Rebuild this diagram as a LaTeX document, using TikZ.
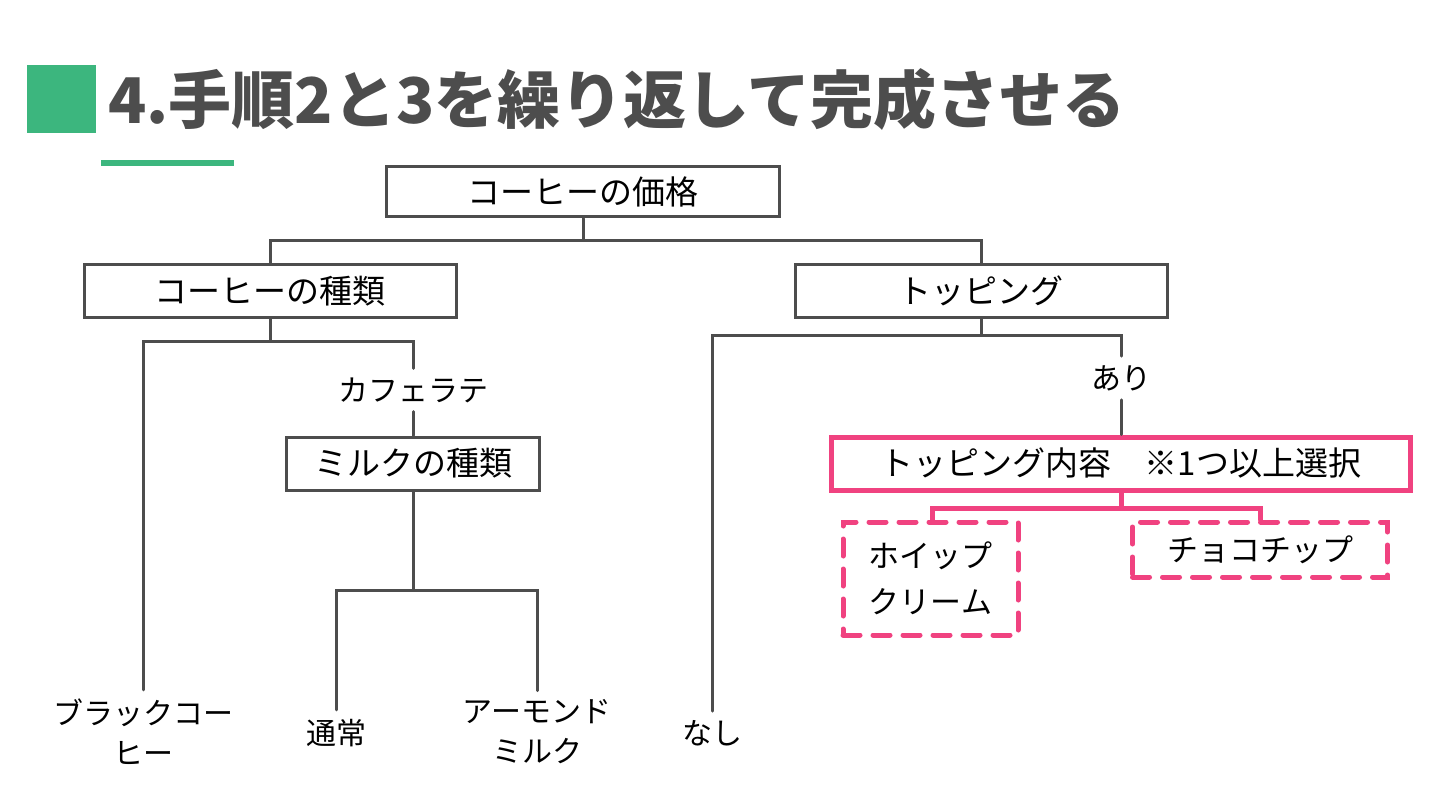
\documentclass[tikz,border=0pt]{standalone}
\usepackage{fontspec}
\setmainfont{Noto Sans CJK JP}
\usepackage{tikz}
\usetikzlibrary{arrows.meta,calc,positioning}
\definecolor{treegray}{RGB}{77,77,77}
\definecolor{titlegreen}{RGB}{60,182,126}
\definecolor{toppingpink}{RGB}{240,66,128}

\begin{document}
\begin{tikzpicture}[x=1pt,y=-1pt,line cap=round,
 treebox/.style={draw=treegray,line width=3pt,fill=white,inner sep=0pt,
  font=\fontsize{33}{40}\selectfont},
 leaf/.style={inner sep=9pt,align=center,font=\fontsize{30}{40}\selectfont},
 pinkbox/.style={draw=toppingpink,line width=5pt,fill=white,inner sep=0pt,
  font=\fontsize{33}{40}\selectfont},
 pinkdash/.style={pinkbox,dash pattern=on 17pt off 13pt,align=center,
  font=\fontsize{31}{46}\selectfont},
 edge/.style={treegray,line width=3pt},
 pinkedge/.style={toppingpink,line width=5pt}]
\useasboundingbox (0,0) rectangle (1440,810);
\fill[white] (0,0) rectangle (1440,810);
% title
\fill[titlegreen] (27,65) rectangle (96,133);
\node[anchor=west,text=treegray,inner sep=0pt,
 font=\fontsize{63}{70}\selectfont\bfseries] (title) at (108,99)
 {4.手順2と3を繰り返して完成させる};
\fill[titlegreen] (101,160) rectangle (234,166);
% boxes
\node[treebox,minimum width=393pt,minimum height=50pt] (price) at (583,192) {コーヒーの価格};
\node[treebox,minimum width=372pt,minimum height=52pt] (kind) at (270,291) {コーヒーの種類};
\node[treebox,minimum width=372pt,minimum height=52pt] (topping) at (981,291) {トッピング};
\node[treebox,minimum width=253pt,minimum height=53pt] (milk) at (413,463.5) {ミルクの種類};
\node[pinkbox,minimum width=579pt,minimum height=53pt] (detail) at (1121,463.5)
 {トッピング内容　※1つ以上選択};
\node[pinkdash,minimum width=175pt,minimum height=113pt] (whip) at (930.5,578.5) {ホイップ\\クリーム};
\node[pinkdash,minimum width=255pt,minimum height=55pt] (choco) at (1260,549.5) {チョコチップ};
% labels
\node[leaf] (latte) at (413,390) {カフェラテ};
\node[leaf] (yes) at (1121,378) {あり};
\node[leaf] (black) at (143,732) {ブラックコー\\ヒー};
\node[leaf] (normal) at (336,733) {通常};
\node[leaf] (almond) at (537,732) {アーモンド\\ミルク};
\node[leaf] (none) at (712,733) {なし};
% junctions
\coordinate (jprice) at (583,241);
\coordinate (jkind) at (270,341);
\coordinate (jmilk) at (413,590);
\coordinate (jtop) at (981,335);
\coordinate (jdetail) at (1121,508);
% connectors
\draw[edge] (price.south) -- (jprice) -| (kind.north);
\draw[edge] (jprice) -| (topping.north);
\draw[edge] (kind.south) -- (jkind) -| (black.north);
\draw[edge] (jkind) -| (latte.north);
\draw[edge] (latte.south) -- (milk.north);
\draw[edge] (milk.south) -- (jmilk) -| (normal.north);
\draw[edge] (jmilk) -| (almond.north);
\draw[edge] (topping.south) -- (jtop) -| (none.north);
\draw[edge] (jtop) -| (yes.north);
\draw[edge] (yes.south) -- (detail.north);
\draw[pinkedge] (detail.south) -- (jdetail) -| ([xshift=1.5pt]whip.north);
\draw[pinkedge] (jdetail) -| (choco.north);
\end{tikzpicture}
\end{document}
